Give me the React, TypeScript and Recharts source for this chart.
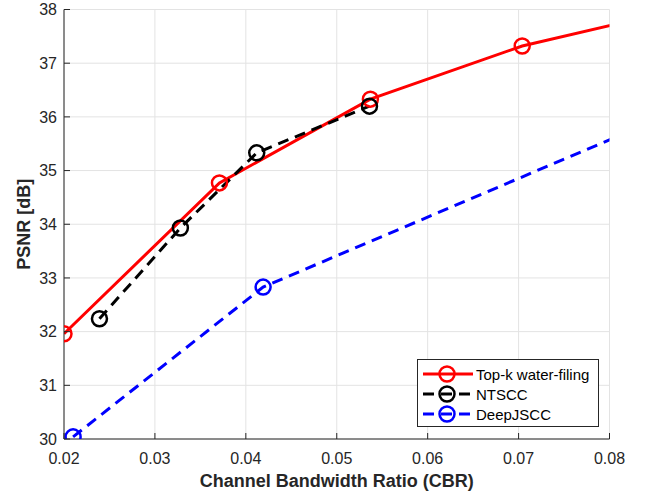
import React from 'react';
import { LineChart, Line, XAxis, YAxis, CartesianGrid } from 'recharts';

const xTicks = [0.02, 0.03, 0.04, 0.05, 0.06, 0.07, 0.08];
const yTicks = [30, 31, 32, 33, 34, 35, 36, 37, 38];

const topkCbr = [0.02, 0.0371, 0.0537, 0.0704, 0.0833];
const topkPsnr = [31.96, 34.77, 36.33, 37.32, 37.83];

const ntsccCbr = [0.0239, 0.0328, 0.0412, 0.0536];
const ntsccPsnr = [32.24, 33.93, 35.33, 36.2];

const deepCbr = [0.021, 0.0419, 0.0833];
const deepPsnr = [30.04, 32.83, 35.81];

const toRows = (xs: number[], ys: number[]) => xs.map((x, i) => ({ x, y: ys[i] }));
const topkData = toRows(topkCbr, topkPsnr);
const ntsccData = toRows(ntsccCbr, ntsccPsnr);
const deepData = toRows(deepCbr, deepPsnr);

const FONT = '"Liberation Sans", Arial, Helvetica, sans-serif';
const AXIS = '#262626';

const series = [
  { name: 'Top-k water-filing', color: '#ff0000', dash: undefined as string | undefined },
  { name: 'NTSCC', color: '#000000', dash: '11 7' },
  { name: 'DeepJSCC', color: '#0000ff', dash: '11 7' },
];

const XTick = (props: any) => {
  const { x, y, payload } = props;
  return (
    <g>
      <line x1={x} x2={x} y1={y} y2={y - 6} stroke={AXIS} strokeWidth={1} />
      <text x={x} y={y + 24.5} textAnchor="middle" fontSize={16} fill={AXIS} fontFamily={FONT}>
        {String(payload.value)}
      </text>
    </g>
  );
};

const YTick = (props: any) => {
  const { x, y, payload } = props;
  return (
    <g>
      <line x1={x} x2={x + 6} y1={y} y2={y} stroke={AXIS} strokeWidth={1} />
      <text x={x - 7} y={y + 5.8} textAnchor="end" fontSize={16} fill={AXIS} fontFamily={FONT}>
        {String(payload.value)}
      </text>
    </g>
  );
};

const Dot = (color: string) => (props: any) => {
  const { cx, cy, index } = props;
  if (cx == null || cy == null) return <g key={index} />;
  return <circle key={index} cx={cx} cy={cy} r={7.5} fill="none" stroke={color} strokeWidth={2.5} />;
};

const LegendBox = () => (
  <svg width={182} height={68} style={{ display: 'block' }}>
    <rect x={0.5} y={0.5} width={181} height={67} fill="#ffffff" stroke={AXIS} strokeWidth={1} />
    {series.map((s, i) => {
      const cy = 15 + i * 20;
      return (
        <g key={s.name}>
          <line x1={6} x2={56} y1={cy} y2={cy} stroke={s.color} strokeWidth={3} strokeDasharray={s.dash} />
          <circle cx={30} cy={cy} r={7.5} fill="none" stroke={s.color} strokeWidth={2.5} />
          <text x={59} y={cy + 5.5} fontSize={15} fill="#000" fontFamily={FONT}>
            {s.name}
          </text>
        </g>
      );
    })}
  </svg>
);

export default function App() {
  return (
    <div style={{ position: 'absolute', left: 0, top: 0, width: 655, height: 499, background: '#fff' }}>
      <LineChart width={655} height={499} margin={{ top: 9.5, right: 45.5, bottom: 0, left: 0 }}>
        <CartesianGrid stroke="#e3e3e3" strokeWidth={1} />
        <XAxis
          type="number"
          dataKey="x"
          domain={[0.02, 0.08]}
          ticks={xTicks}
          allowDataOverflow
          height={60}
          stroke={AXIS}
          tickLine={false}
          tickSize={0}
          tickMargin={0}
          tick={<XTick />}
          interval={0}
          label={{
            value: 'Channel Bandwidth Ratio (CBR)',
            position: 'insideBottom',
            offset: 12,
            fontSize: 18,
            fontWeight: 'bold',
            fill: AXIS,
            fontFamily: FONT,
          }}
        />
        <YAxis
          type="number"
          domain={[30, 38]}
          ticks={yTicks}
          allowDataOverflow
          width={64}
          stroke={AXIS}
          tickLine={false}
          tickSize={0}
          tickMargin={0}
          tick={<YTick />}
          interval={0}
          label={{
            value: 'PSNR [dB]',
            angle: -90,
            position: 'insideLeft',
            offset: 0,
            dx: 23.5,
            fontSize: 18,
            fontWeight: 'bold',
            fill: AXIS,
            fontFamily: FONT,
            style: { textAnchor: 'middle' },
          }}
        />
        <Line
          data={topkData}
          dataKey="y"
          name={series[0].name}
          stroke={series[0].color}
          strokeWidth={3}
          dot={Dot(series[0].color)}
          activeDot={false}
          isAnimationActive={false}
          type="linear"
        />
        <Line
          data={ntsccData}
          dataKey="y"
          name={series[1].name}
          stroke={series[1].color}
          strokeWidth={3}
          strokeDasharray="11 7"
          dot={Dot(series[1].color)}
          activeDot={false}
          isAnimationActive={false}
          type="linear"
        />
        <Line
          data={deepData}
          dataKey="y"
          name={series[2].name}
          stroke={series[2].color}
          strokeWidth={3}
          strokeDasharray="11 7"
          dot={Dot(series[2].color)}
          activeDot={false}
          isAnimationActive={false}
          type="linear"
        />
      </LineChart>
      <div style={{ position: 'absolute', left: 416.5, top: 358.5 }}>
        <LegendBox />
      </div>
    </div>
  );
}
